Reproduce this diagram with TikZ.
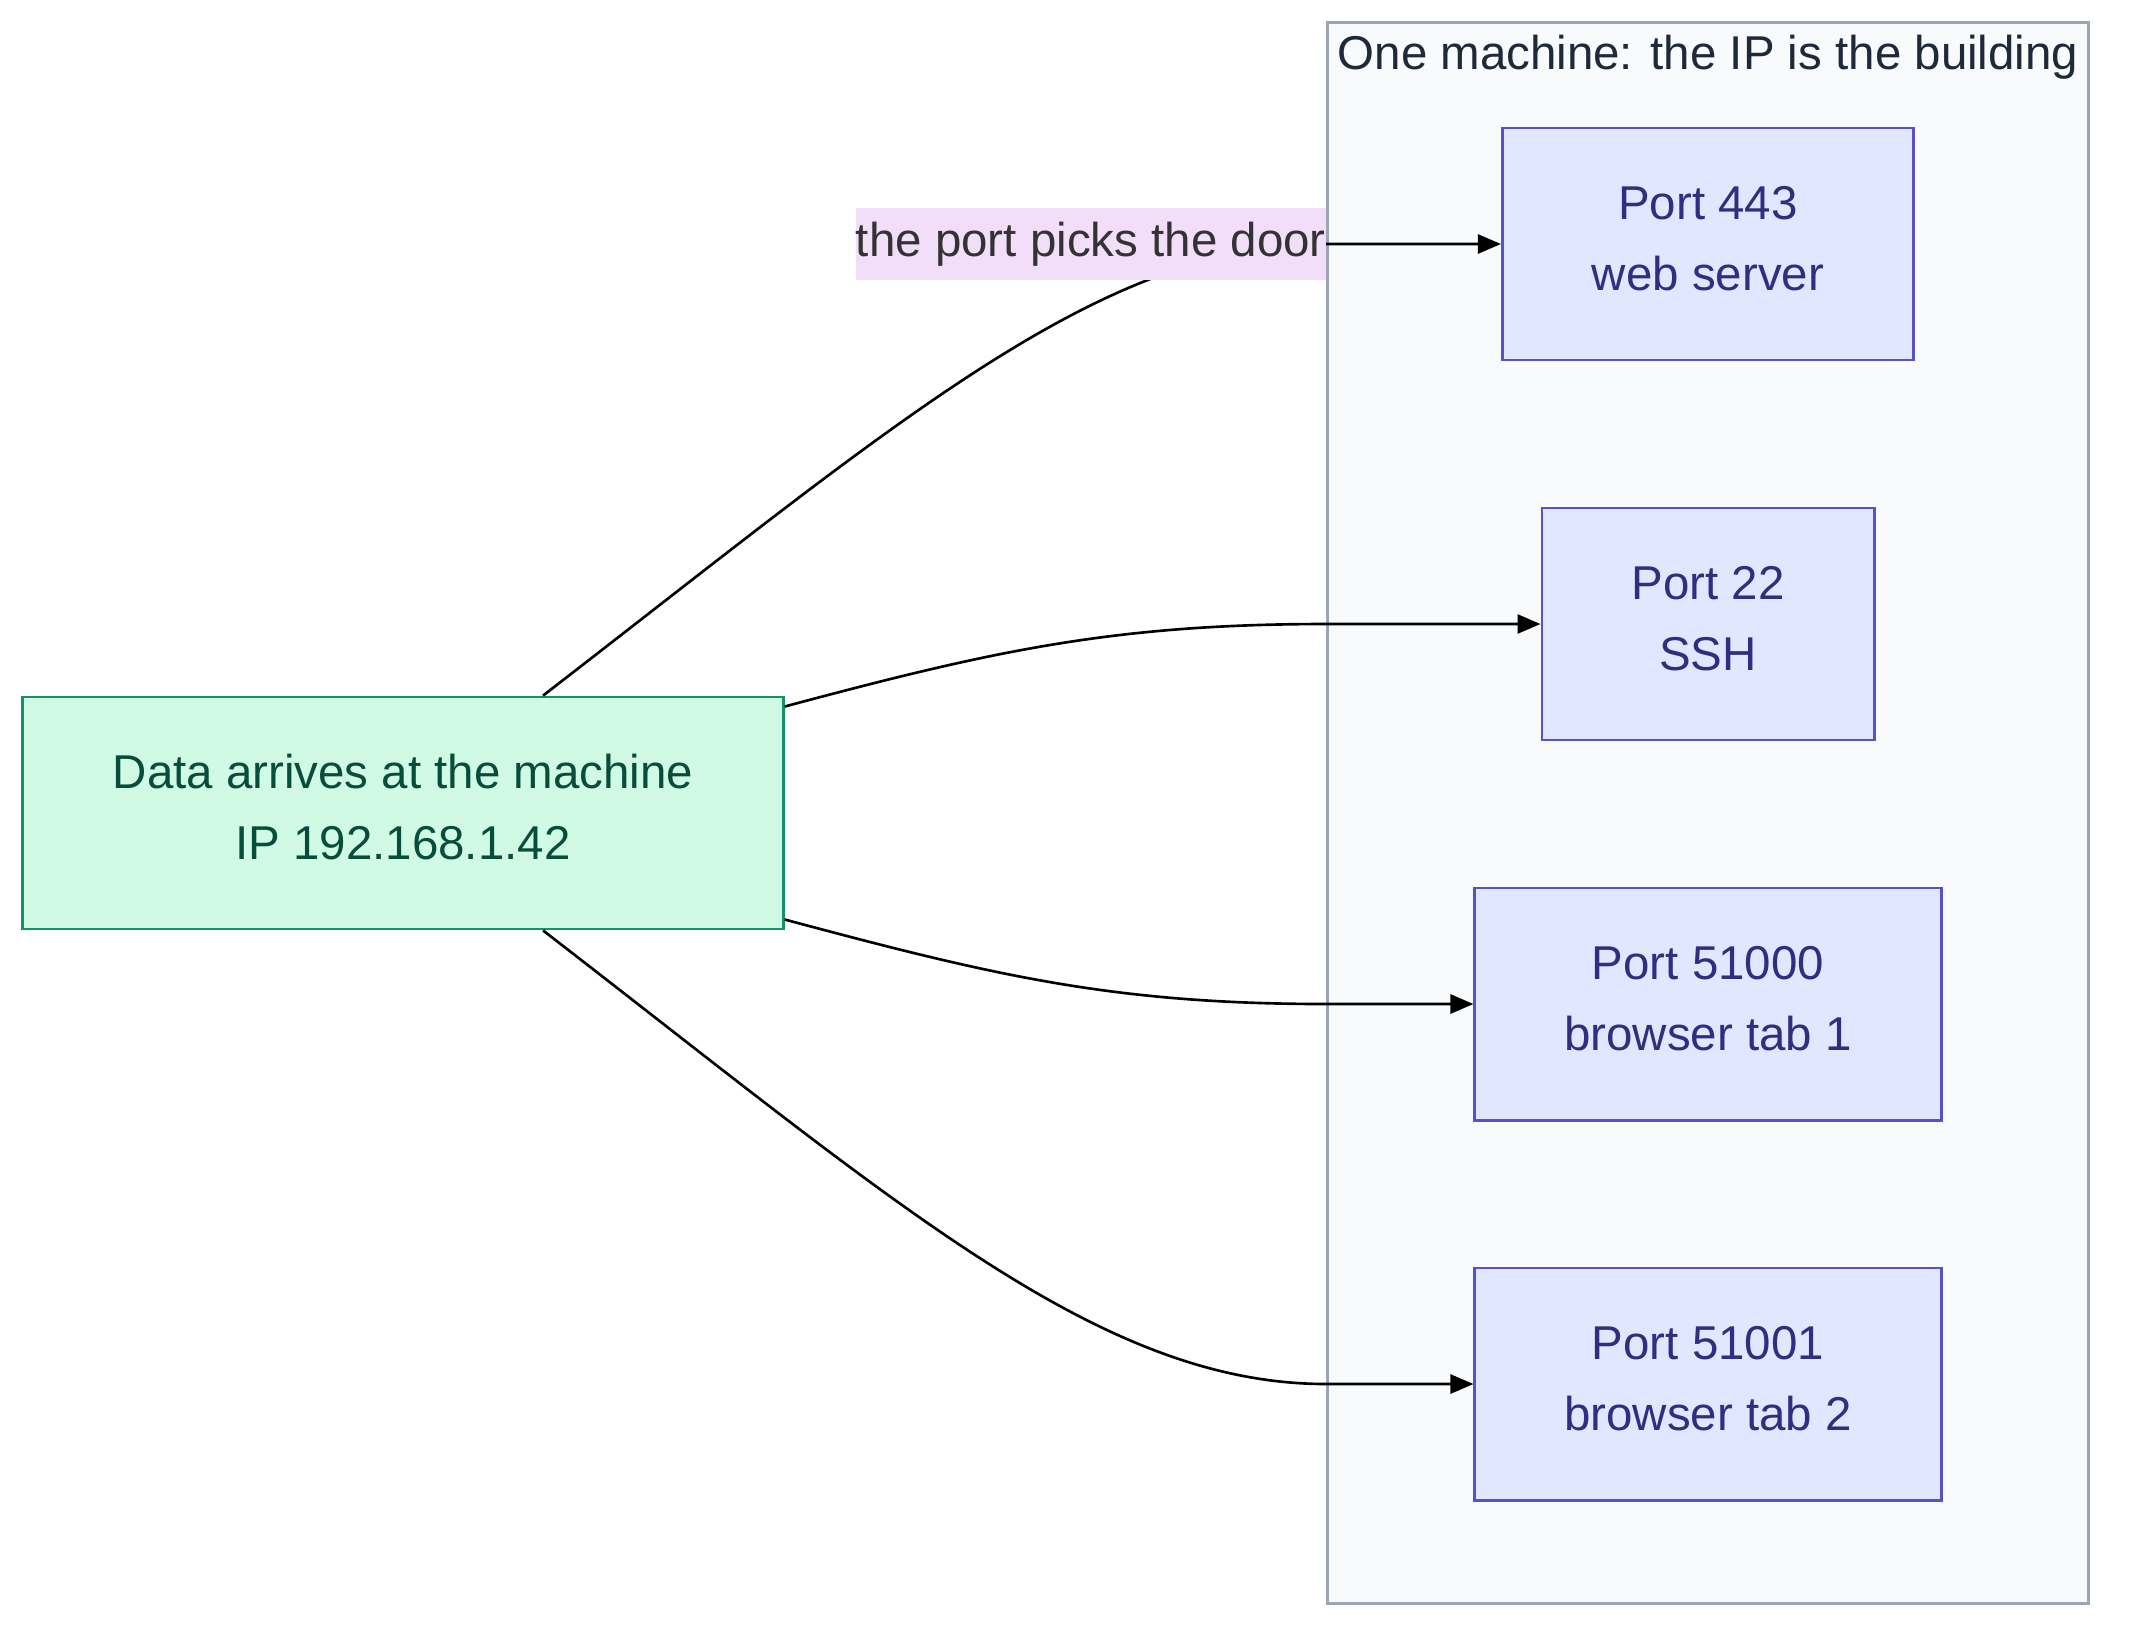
\documentclass[tikz,border=0pt]{standalone}
\usepackage{fontspec}
\setmainfont{Liberation Sans}
\usetikzlibrary{arrows.meta}
\definecolor{clfill}{HTML}{F8FAFC}
\definecolor{cldraw}{HTML}{9AA6B8}
\definecolor{cltext}{HTML}{1E293B}
\definecolor{srcfill}{HTML}{D1FAE5}
\definecolor{srcdraw}{HTML}{14936A}
\definecolor{srctext}{HTML}{064E3B}
\definecolor{portfill}{HTML}{E0E7FF}
\definecolor{portdraw}{HTML}{5A50C8}
\definecolor{porttext}{HTML}{312E81}
\definecolor{lblfill}{HTML}{F2DEF9}
\definecolor{lbltext}{HTML}{333333}
\begin{document}
\begin{tikzpicture}
	[x=0.01cm,y=-0.01cm,
	 every node/.style={font=\fontsize{13.5}{20.2}\selectfont,align=center},
	 cluster/.style={draw=cldraw,fill=clfill,line width=0.8pt,minimum width=7.6cm,minimum height=15.8cm},
	 source/.style={draw=srcdraw,fill=srcfill,text=srctext,line width=0.8pt,minimum width=7.6cm,minimum height=2.32cm,text depth=0.12cm},
	 port/.style={draw=portdraw,fill=portfill,text=porttext,line width=0.8pt,minimum height=2.32cm,text depth=0.12cm},
	 edgelbl/.style={fill=lblfill,text=lbltext,inner xsep=0pt,minimum height=0.71cm},
	 link/.style={line width=0.75pt,-{Triangle[length=0.23cm,width=0.19cm]}}]
	
	\useasboundingbox (0,0) rectangle (2136,1644);
	
	\node[cluster] (box) at (1708,813) {};
	\node[text=cltext] (title) at (1708,57) {One machine: the IP is the building};
	
	\node[source] (src) at (403,813) {Data arrives at the machine\\IP 192.168.1.42};
	
	\node[port,minimum width=4.11cm] (p443) at (1708,244) {Port 443\\web server};
	\node[port,minimum width=3.32cm] (p22) at (1708,624) {Port 22\\SSH};
	\node[port,minimum width=4.66cm] (p51000) at (1708,1004) {Port 51000\\browser tab 1};
	\node[port,minimum width=4.66cm] (p51001) at (1708,1384) {Port 51001\\browser tab 2};
	
	\coordinate (w443) at (box.west |- p443.west);
	\coordinate (w22) at (box.west |- p22.west);
	\coordinate (w51000) at (box.west |- p51000.west);
	\coordinate (w51001) at (box.west |- p51001.west);
	
	\draw[link] ([xshift=1.4cm]src.north) .. controls (900,420) and (1100,244) .. (w443) -- (p443.west);
	\draw[link] ([yshift=-0.11cm]src.north east) to[out=15,in=180] (w22) -- (p22.west);
	\draw[link] ([yshift=0.11cm]src.south east) to[out=-15,in=180] (w51000) -- (p51000.west);
	\draw[link] ([xshift=1.4cm]src.south) .. controls (900,1206) and (1100,1384) .. (w51001) -- (p51001.west);
	
	\node[edgelbl,anchor=east] (lbl) at (w443) {the port picks the door};
	
\end{tikzpicture}
\end{document}
